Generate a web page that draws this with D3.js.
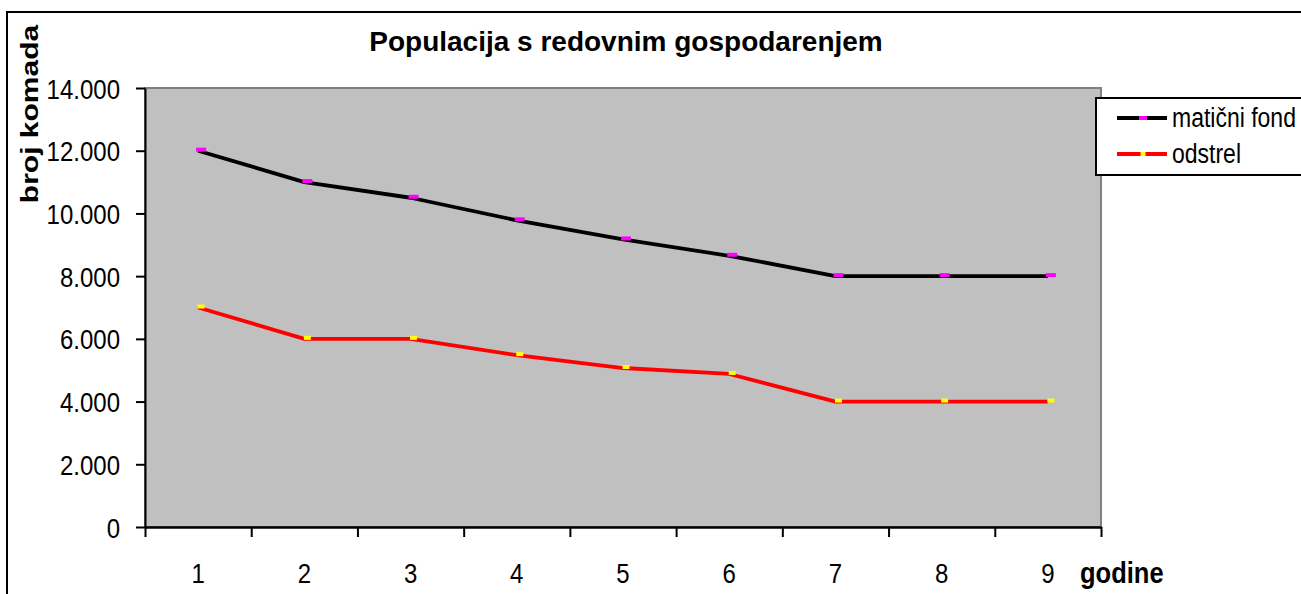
<!DOCTYPE html>
<html>
<head>
<meta charset="utf-8">
<script src="https://cdn.jsdelivr.net/npm/d3@7"></script>
<style>
  body { margin: 0; background: #fff; }
  svg { display: block; font-family: "Liberation Sans", Arial, sans-serif; }
</style>
</head>
<body>
<div id="chart"></div>
<script>
// Chart data
const godine = [1, 2, 3, 4, 5, 6, 7, 8, 9];
const maticniFond = [12000, 11000, 10500, 9780, 9170, 8650, 8000, 8000, 8000];
const odstrel = [7000, 6000, 6000, 5480, 5070, 4880, 4000, 4000, 4000];
const yTicks = [0, 2000, 4000, 6000, 8000, 10000, 12000, 14000];

const series = [
  { name: "matični fond", values: maticniFond, line: "#000000", marker: "#FF00FF", mw: 10 },
  { name: "odstrel", values: odstrel, line: "#FF0000", marker: "#FFFF00", mw: 7 }
];

const W = 1301, H = 594;
const plot = { left: 145, top: 88, right: 1101, bottom: 527 };

const svg = d3.select("#chart").append("svg")
  .attr("width", W)
  .attr("height", H);

// outer chart frame (runs off the right and bottom edge)
svg.append("rect")
  .attr("x", 7).attr("y", 12)
  .attr("width", 1400).attr("height", 700)
  .attr("fill", "#fff")
  .attr("stroke", "#000")
  .attr("stroke-width", 2);

// scales
const x = d3.scaleBand()
  .domain(godine)
  .range([plot.left, plot.right])
  .padding(0);

const xEdge = d3.scaleLinear()
  .domain([0, godine.length])
  .range([plot.left, plot.right]);

const y = d3.scaleLinear()
  .domain([0, 14000])
  .range([plot.bottom, plot.top]);

const fmt = d3.formatLocale({ decimal: ",", thousands: ".", grouping: [3], currency: ["", ""] }).format(",");

// plot area
svg.append("rect")
  .attr("x", plot.left).attr("y", plot.top)
  .attr("width", plot.right - plot.left)
  .attr("height", plot.bottom - plot.top)
  .attr("fill", "#C0C0C0")
  .attr("stroke", "#808080")
  .attr("stroke-width", 2);

// y axis
const yAxis = svg.append("g")
  .attr("transform", `translate(${plot.left},0)`)
  .call(d3.axisLeft(y).tickValues(yTicks).tickFormat(fmt).tickSize(9).tickSizeOuter(0));
yAxis.select(".domain").attr("stroke", "#000").attr("stroke-width", 2);
yAxis.selectAll("line").attr("stroke", "#000").attr("stroke-width", 2);
yAxis.selectAll("text")
  .attr("x", null).attr("dy", null)
  .attr("transform", "translate(-25,10) scale(1,1.17)")
  .attr("fill", "#000")
  .style("font-size", "24px")
  .style("font-family", "Liberation Sans, Arial, sans-serif");

// x axis: ticks on category edges
const xTicksG = svg.append("g")
  .attr("transform", `translate(0,${plot.bottom})`)
  .call(d3.axisBottom(xEdge).tickValues(d3.range(godine.length + 1)).tickFormat("").tickSize(10).tickSizeOuter(0));
xTicksG.select(".domain").attr("stroke", "#000").attr("stroke-width", 2.5);
xTicksG.selectAll("line").attr("stroke", "#000").attr("stroke-width", 2);

// x axis: labels in category centres
const xLab = svg.append("g")
  .attr("transform", `translate(0,${plot.bottom})`)
  .call(d3.axisBottom(x).tickSize(0));
xLab.select(".domain").remove();
xLab.selectAll("text")
  .attr("y", null).attr("dy", null)
  .attr("transform", "translate(0,56) scale(1,1.17)")
  .attr("fill", "#000")
  .style("font-size", "24px")
  .style("font-family", "Liberation Sans, Arial, sans-serif");

// lines
const line = d3.line()
  .x((d, i) => x(godine[i]) + x.bandwidth() / 2)
  .y(d => y(d));

series.forEach(s => {
  svg.append("path")
    .datum(s.values)
    .attr("fill", "none")
    .attr("stroke", s.line)
    .attr("stroke-width", 3.8)
    .attr("stroke-linejoin", "round")
    .attr("d", line);
});

// markers (small dashes)
series.forEach(s => {
  svg.append("g").selectAll("rect")
    .data(s.values)
    .enter()
    .append("rect")
    .attr("x", (d, i) => x(godine[i]) + x.bandwidth() / 2 + 3 - s.mw / 2)
    .attr("y", d => y(d) - 3)
    .attr("width", s.mw)
    .attr("height", 4)
    .attr("fill", s.marker);
});

// title
svg.append("text")
  .attr("x", 626)
  .attr("y", 51)
  .attr("text-anchor", "middle")
  .style("font-size", "28px")
  .style("font-weight", "bold")
  .text("Populacija s redovnim gospodarenjem");

// y axis title
svg.append("text")
  .attr("transform", "translate(38,114) rotate(-90) scale(1.25,1)")
  .attr("text-anchor", "middle")
  .style("font-size", "24px")
  .style("font-weight", "bold")
  .text("broj komada");

// x axis title
svg.append("text")
  .attr("transform", "translate(1080,583) scale(1,1.17)")
  .style("font-size", "25.5px")
  .style("font-weight", "bold")
  .text("godine");

// legend
const legend = svg.append("g").attr("transform", "translate(1096,98)");
legend.append("rect")
  .attr("width", 260).attr("height", 77)
  .attr("fill", "#fff")
  .attr("stroke", "#000")
  .attr("stroke-width", 2);

const legendRows = [20, 56];
series.forEach((s, i) => {
  const row = legend.append("g").attr("transform", `translate(0,${legendRows[i]})`);
  row.append("line")
    .attr("x1", 21).attr("x2", 71)
    .attr("stroke", s.line)
    .attr("stroke-width", 4);
  row.append("rect")
    .attr("x", 48 - s.mw / 2).attr("y", -2)
    .attr("width", s.mw - 2).attr("height", 4)
    .attr("fill", s.marker);
  row.append("text")
    .attr("transform", "translate(76,9) scale(1,1.17)")
    .style("font-size", "23px")
    .text(s.name);
});
</script>
</body>
</html>
